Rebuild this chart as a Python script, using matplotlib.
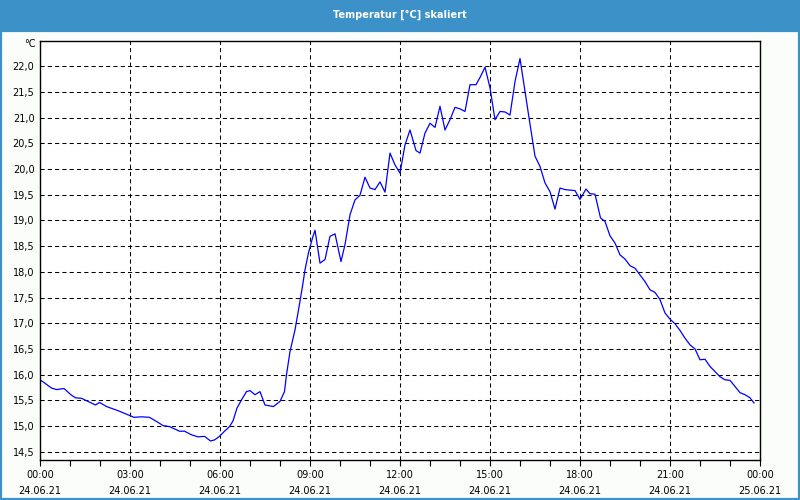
import numpy as np
import matplotlib.pyplot as plt
from matplotlib.patches import Rectangle

# minutes since 24.06.21 00:00
minutes = [0, 9, 23, 33, 48, 63, 71, 83, 96, 111, 119, 133, 156, 176, 188, 203,
           219, 233, 246, 259, 279, 289, 303, 316, 329, 341, 349, 359, 369, 379,
           386, 394, 403, 413, 420, 430, 440, 450, 467, 480, 489, 493, 500, 510,
           517, 525, 530, 537, 545, 550, 560, 570, 580, 590, 602, 610, 620, 630,
           640, 650, 660, 670, 680, 690, 700, 710, 720, 730, 740, 752, 760, 770,
           780, 790, 800, 810, 820, 830, 840, 850, 860, 872, 880, 890, 900, 910,
           920, 930, 940, 950, 960, 970, 978, 990, 1000, 1010, 1020, 1030, 1040,
           1050, 1070, 1080, 1092, 1100, 1110, 1121, 1130, 1140, 1150, 1160, 1170,
           1180, 1190, 1200, 1210, 1220, 1230, 1240, 1250, 1260, 1270, 1280, 1290,
           1300, 1310, 1320, 1330, 1340, 1350, 1360, 1370, 1380, 1390, 1400, 1410,
           1420, 1428]
temps = [15.90, 15.84, 15.74, 15.71, 15.73, 15.60, 15.55, 15.54, 15.48, 15.41,
         15.46, 15.38, 15.30, 15.22, 15.17, 15.18, 15.17, 15.09, 15.01, 14.99,
         14.90, 14.90, 14.83, 14.79, 14.80, 14.71, 14.73, 14.80, 14.90, 14.99,
         15.10, 15.35, 15.51, 15.67, 15.69, 15.61, 15.67, 15.41, 15.38, 15.48,
         15.67, 16.00, 16.45, 16.87, 17.26, 17.72, 18.04, 18.37, 18.66, 18.81,
         18.17, 18.24, 18.69, 18.74, 18.20, 18.53, 19.11, 19.40, 19.49, 19.84,
         19.63, 19.60, 19.75, 19.55, 20.31, 20.08, 19.92, 20.47, 20.76, 20.36,
         20.31, 20.70, 20.89, 20.81, 21.22, 20.76, 20.96, 21.20, 21.17, 21.12,
         21.64, 21.64, 21.78, 21.98, 21.58, 20.96, 21.12, 21.11, 21.05, 21.70,
         22.15, 21.51, 21.00, 20.25, 20.05, 19.73, 19.56, 19.22, 19.63, 19.60,
         19.58, 19.41, 19.61, 19.52, 19.51, 19.05, 18.98, 18.70, 18.56, 18.33,
         18.25, 18.12, 18.07, 17.94, 17.81, 17.65, 17.60, 17.46, 17.20, 17.08,
         16.99, 16.86, 16.71, 16.58, 16.50, 16.29, 16.30, 16.16, 16.06, 15.96,
         15.90, 15.89, 15.77, 15.65, 15.61, 15.55, 15.45]

time_labels = ["00:00", "03:00", "06:00", "09:00", "12:00", "15:00", "18:00", "21:00", "00:00"]
date_labels = ["24.06.21"] * 8 + ["25.06.21"]
y_ticks = np.arange(14.5, 22.01, 0.5)

title = "Temperatur [°C] skaliert"
frame_blue = "#3c91c8"

plt.rcParams['font.family'] = ['DejaVu Sans']

fig = plt.figure(figsize=(8, 5), dpi=100, facecolor="#fbfdfb")

# window frame and title bar
fig.patches.append(Rectangle((0, 1 - 31 / 500), 1, 31 / 500, transform=fig.transFigure,
                             facecolor=frame_blue, edgecolor="none", zorder=0))
fig.patches.append(Rectangle((0.0012, 0.003), 0.9976, 1 - 31 / 500 - 0.003, transform=fig.transFigure,
                             facecolor="none", edgecolor=frame_blue, linewidth=1.6, zorder=0))
fig.text(0.5, 1 - 15 / 500, title, color="white", ha="center", va="center",
         fontsize=7, fontweight="bold")

ax = fig.add_axes([40 / 800, 40 / 500, 720 / 800, 419.5 / 500])
ax.set_facecolor("white")

hours = np.array(minutes) / 60.0
ax.plot(hours, temps, color="#0000ff", linewidth=0.9)

ax.set_xlim(0, 24)
ax.set_ylim(14.34, 22.5)

ax.set_xticks(np.arange(0, 25, 3))
ax.set_xticks(np.arange(0, 25, 1), minor=True)
ax.set_xticklabels([t + "\n" + d for t, d in zip(time_labels, date_labels)],
                   fontsize=7, linespacing=1.75)
ax.set_yticks(y_ticks)
ax.set_yticklabels([("%.1f" % v).replace(".", ",") for v in y_ticks], fontsize=7)

ax.tick_params(axis="x", which="both", direction="out", length=4, width=0.8, pad=3)
ax.tick_params(axis="y", length=0, pad=4)

ax.grid(True, axis="both", which="major", color="black", linewidth=0.75,
        linestyle=(0, (4, 3)))

for s in ax.spines.values():
    s.set_linewidth(1.0)
    s.set_color("black")

fig.text(30 / 800, 1 - 44 / 500, "°C", ha="center", va="center", fontsize=7)

fig.savefig("out.png", dpi=100, facecolor=fig.get_facecolor())
